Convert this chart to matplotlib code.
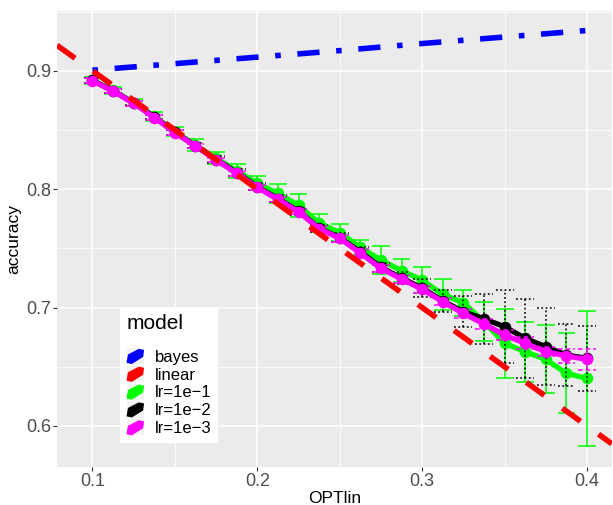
import matplotlib
matplotlib.use("Agg")
import matplotlib.pyplot as plt
from matplotlib.lines import Line2D
from matplotlib.patches import Polygon, Rectangle
from matplotlib.legend_handler import HandlerBase
from matplotlib.ticker import MultipleLocator

plt.rcParams['font.family'] = ['Liberation Sans', 'DejaVu Sans']

# x grid shared by the three lr runs
opt_lin = [0.1, 0.1125, 0.125, 0.1375, 0.15, 0.1625, 0.175, 0.1875, 0.2, 0.2125,
           0.225, 0.2375, 0.25, 0.2625, 0.275, 0.2875, 0.3, 0.3125, 0.325, 0.3375,
           0.35, 0.3625, 0.375, 0.3875, 0.4]

acc_lr1 = [0.892, 0.8835, 0.873, 0.8615, 0.8485, 0.837, 0.826, 0.8155, 0.8049, 0.7964,
           0.7863, 0.7715, 0.7633, 0.7508, 0.7401, 0.7311, 0.7232, 0.7111, 0.7041, 0.688,
           0.6698, 0.6627, 0.6562, 0.6444, 0.6402]
err_lr1 = [0.003, 0.003, 0.003, 0.004, 0.004, 0.005, 0.005, 0.006, 0.006, 0.008,
           0.0095, 0.0075, 0.0075, 0.0065, 0.012, 0.0097, 0.0113, 0.0134, 0.011, 0.0165,
           0.029, 0.0255, 0.0287, 0.0338, 0.0567]

acc_lr2 = [0.8918, 0.883, 0.8728, 0.861, 0.848, 0.8366, 0.825, 0.814, 0.802, 0.792,
           0.7815, 0.767, 0.759, 0.747, 0.734, 0.7248, 0.7165, 0.7055, 0.6965, 0.6905,
           0.6838, 0.674, 0.6669, 0.6599, 0.6571]
err_lr2 = [0.002, 0.002, 0.002, 0.002, 0.002, 0.002, 0.003, 0.003, 0.003, 0.003,
           0.003, 0.003, 0.004, 0.004, 0.004, 0.005, 0.0074, 0.0095, 0.013, 0.021,
           0.031, 0.0333, 0.0325, 0.026, 0.0275]

acc_lr3 = [0.8916, 0.8828, 0.8726, 0.8605, 0.8476, 0.8364, 0.8246, 0.8133, 0.8015, 0.7913,
           0.781, 0.7667, 0.7584, 0.7461, 0.7331, 0.7241, 0.7154, 0.7049, 0.6951, 0.6861,
           0.6768, 0.6698, 0.6627, 0.6592, 0.6562]
err_lr3 = [0.002, 0.002, 0.002, 0.002, 0.002, 0.002, 0.002, 0.002, 0.002, 0.002,
           0.002, 0.002, 0.003, 0.003, 0.003, 0.003, 0.003, 0.003, 0.004, 0.004,
           0.004, 0.005, 0.004, 0.0062, 0.009]

bayes_x = [0.1, 0.15, 0.2, 0.25, 0.3, 0.35, 0.4]
bayes_acc = [0.9005, 0.906, 0.9115, 0.917, 0.923, 0.9285, 0.934]

# linear model: accuracy = intercept + slope * OPTlin
linear_intercept = 1.0
linear_slope = -1.0

models = ['bayes', 'linear', 'lr=1e\u22121', 'lr=1e\u22122', 'lr=1e\u22123']
colors = ['#0000FF', '#FF0000', '#00FF00', '#000000', '#FF00FF']


class BlobHandler(HandlerBase):
    def create_artists(self, legend, orig_handle, xdescent, ydescent,
                       width, height, fontsize, trans):
        bg = Rectangle((-xdescent, -ydescent), width, height,
                       facecolor='#F2F2F2', edgecolor='none', transform=trans)
        shape = [(0.0, 0.08), (0.08, 0.6), (0.7, 0.95), (1.0, 0.88),
                 (0.95, 0.45), (0.3, 0.0)]
        pts = [(-xdescent + sx * width, -ydescent + sy * height) for sx, sy in shape]
        blob = Polygon(pts, closed=True, facecolor=orig_handle.get_color(),
                       edgecolor='none', transform=trans)
        return [bg, blob]


fig = plt.figure(figsize=(6.13, 5.05), dpi=100)
ax = fig.add_axes([0.093, 0.0758, 0.905, 0.903])
ax.set_facecolor('#EBEBEB')
for s in ax.spines.values():
    s.set_visible(False)

ax.set_xlim(0.0785, 0.415)
ax.set_ylim(0.5656, 0.9507)
ax.xaxis.set_major_locator(MultipleLocator(0.1))
ax.xaxis.set_minor_locator(MultipleLocator(0.05))
ax.yaxis.set_major_locator(MultipleLocator(0.1))
ax.yaxis.set_minor_locator(MultipleLocator(0.05))
ax.grid(which='major', color='white', linewidth=1.1)
ax.grid(which='minor', color='white', linewidth=0.55)
ax.set_axisbelow(True)
ax.tick_params(which='major', length=2.8, width=0.8, color='#333333',
               labelcolor='#4D4D4D', labelsize=13, pad=1.5)
ax.tick_params(which='minor', length=0)
ax.xaxis.set_major_formatter(lambda v, p: f'{v:.1f}')
ax.yaxis.set_major_formatter(lambda v, p: f'{v:.1f}')

cap = 0.0054
series = [
    (acc_lr1, err_lr1, colors[2], '-', 3),
    (acc_lr2, err_lr2, colors[3], (0, (1.2, 1.6)), 4),
    (acc_lr3, err_lr3, colors[4], (0, (3, 2)), 5),
]
for acc, err, col, els, z in series:
    lo = [a - e for a, e in zip(acc, err)]
    hi = [a + e for a, e in zip(acc, err)]
    ax.vlines(opt_lin, lo, hi, colors=col, linestyles=els, linewidth=1.1, zorder=z)
    ax.hlines(lo, [x - cap for x in opt_lin], [x + cap for x in opt_lin],
              colors=col, linestyles=els, linewidth=1.1, zorder=z)
    ax.hlines(hi, [x - cap for x in opt_lin], [x + cap for x in opt_lin],
              colors=col, linestyles=els, linewidth=1.1, zorder=z)
    ax.plot(opt_lin, acc, color=col, linewidth=3.8, marker='o', markersize=7.3,
            solid_capstyle='round', zorder=z)

ax.plot(bayes_x, bayes_acc, color=colors[0], linewidth=4.0,
        linestyle=(0, (1, 3, 4, 3)), zorder=6)
ax.axline((0, linear_intercept), slope=linear_slope, color=colors[1],
          linewidth=4.0, linestyle=(0, (4, 4)), zorder=6)

ax.set_xlabel('OPTlin', fontsize=12.5, labelpad=1)
ax.set_ylabel('accuracy', fontsize=12.5, labelpad=3.4)

handles = [Line2D([], [], color=c) for c in colors]
leg = ax.legend(handles, models, handler_map={Line2D: BlobHandler()},
                loc='lower left', bbox_to_anchor=(0.1133, 0.0526),
                borderaxespad=0, fontsize=12, title='model', title_fontsize=15,
                alignment='left', frameon=True, fancybox=False, framealpha=1,
                facecolor='white', edgecolor='none', handlelength=1.05,
                handleheight=1.1, labelspacing=0.07, handletextpad=0.65,
                borderpad=0.4)
# wider gap between the title and the keys, as in ggplot
leg._legend_box.sep = 11
leg.set_zorder(10)

fig.savefig('out.png', dpi=100)
